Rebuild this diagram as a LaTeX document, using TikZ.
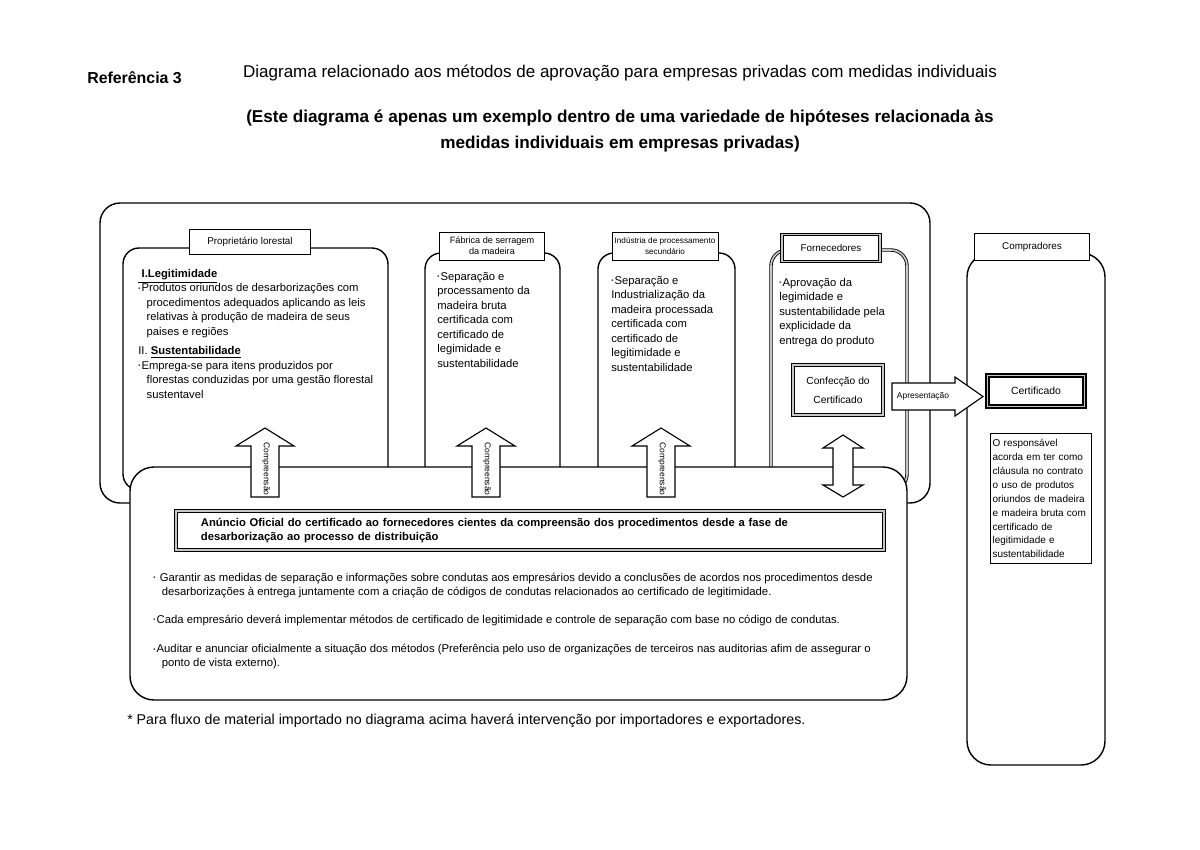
\documentclass[tikz,border=0pt]{standalone}
\usepackage{fontspec}
\setmainfont{Liberation Sans}
\usetikzlibrary{positioning}
\tikzset{
  frame/.style={draw, line width=1pt, rounded corners=5mm},
  inframe/.style={draw, line width=1pt, rounded corners=4mm},
  dframe/.style={draw, line width=0.6pt, double=gray!45, double distance=1.2pt, rounded corners=4mm},
  tag/.style={draw, line width=0.7pt, fill=white, align=center, inner sep=1pt,
              font=\fontsize{7}{8.5}\selectfont},
  dtag/.style={tag, double=gray!45, double distance=1.2pt},
  body/.style={anchor=north west, align=left, inner sep=0pt, font=\fontsize{8}{10.3}\selectfont},
  small/.style={anchor=north west, align=left, inner sep=0pt, font=\fontsize{8.05}{9.9}\selectfont},
  blockarrow/.style={draw, line width=0.8pt, fill=white, line join=miter},
  vtext/.style={rotate=-90, inner sep=0pt, font=\fontsize{6}{7}\selectfont},
}
\newcommand{\bul}{\raisebox{0.3ex}{\scalebox{0.5}{\textbullet}}\hspace{0.12em}}

\begin{document}
\begin{tikzpicture}[x=0.025cm,y=-0.025cm]
\useasboundingbox (0,0) rectangle (1200,849);
% headings
\node[anchor=west, inner sep=0pt, font=\bfseries\fontsize{11.3}{13}\selectfont] (ref) at (87,78) {Referência 3};
\node[inner sep=0pt, font=\fontsize{12.1}{14}\selectfont] (subt) at (620,73)
  {Diagrama relacionado aos métodos de aprovação para empresas privadas com medidas individuais};
\node[align=center, inner sep=0pt, font=\bfseries\fontsize{12.2}{18}\selectfont] (note) at (620,131)
  {(Este diagrama é apenas um exemplo dentro de uma variedade de hipóteses relacionada às\\
   medidas individuais em empresas privadas)};

% frames
\draw[frame] (100,203) rectangle (930,503);
\draw[inframe] (123,248) rectangle (388,490);
\draw[inframe] (425,253) rectangle (560,490);
\draw[inframe] (598,253) rectangle (735,490);
\draw[dframe] (771,250) rectangle (907,490);
\draw[frame, rounded corners=6mm] (967,253) rectangle (1105,765);
\draw[frame, rounded corners=6mm, fill=white] (130,467) rectangle (907,700);

% tags
\node[tag, minimum width=3cm, minimum height=0.62cm] (tagOwner) at (250,242) {Proprietário lorestal};
\node[tag, minimum width=2.62cm, minimum height=0.7cm, font=\fontsize{6.5}{7.6}\selectfont] (tagMill) at (492,246)
  {Fábrica de serragem\\da madeira};
\node[tag, minimum width=2.65cm, minimum height=0.7cm, font=\fontsize{5.8}{7.2}\selectfont] (tagInd) at (665,246)
  {Indústria de processamento\\secundário};
\node[dtag, minimum width=2.45cm, minimum height=0.68cm] (tagSup) at (831,248) {Fornecedores};
\node[tag, minimum width=2.88cm, minimum height=0.67cm] (tagBuy) at (1032,247) {Compradores};

% texts of the stages
\node[body] (txtOwner) at (138,269)
  {\underline{\textbf{\hspace{0.3em}I.Legitimidade}}\\
   \bul Produtos oriundos de desarborizações com\\
   \hspace*{0.75em}procedimentos adequados aplicando as leis\\
   \hspace*{0.75em}relativas à produção de madeira de seus\\
   \hspace*{0.75em}paises e regiões\\[3.5pt]
   II. \underline{\textbf{Sustentabilidade}}\\
   \bul Emprega-se para itens produzidos por\\
   \hspace*{0.75em}florestas conduzidas por uma gestão florestal\\
   \hspace*{0.75em}sustentavel};
\node[body] (txtMill) at (437,272)
  {\bul Separação e\\processamento da\\madeira bruta\\certificada com\\certificado de\\legimidade e\\sustentabilidade};
\node[body] (txtInd) at (611,276)
  {\bul Separação e\\Industrialização da\\madeira processada\\certificada com\\certificado de\\legitimidade e\\sustentabilidade};
\node[body] (txtSup) at (779,278)
  {\bul Aprovação da\\legimidade e\\sustentabilidade pela\\explicidade da\\entrega do produto};

% certificate path
\node[dtag, line width=0.9pt, minimum width=2.25cm, minimum height=1.25cm,
      font=\fontsize{7.3}{13.5}\selectfont] (make) at (838,390) {Confecção do\\Certificado};
\node[dtag, line width=0.9pt, minimum width=2.42cm, minimum height=0.77cm,
      font=\fontsize{7.4}{9}\selectfont] (cert) at (1036,391) {Certificado};
\draw[blockarrow] (892,383) -- (955,383) -- (955,377) -- (983,396.5) -- (955,416) -- (955,410) -- (892,410) -- cycle;
\node[inner sep=0pt, font=\fontsize{6}{7}\selectfont] (pres) at (923,396.5) {Apresentação};
\node[anchor=north west, align=left, draw, line width=0.7pt, inner xsep=1.5pt, inner ysep=4pt,
      text width=2.42cm, font=\fontsize{7.1}{9.9}\selectfont] (buyTxt) at (990,433)
  {O responsável\\acorda em ter como\\cláusula no contrato\\o uso de produtos\\oriundos de madeira\\e madeira bruta com\\certificado de\\legitimidade e\\sustentabilidade};

% block arrows
\foreach \ax/\nm in {265/upa,486/upb,661/upc}{
  \draw[blockarrow] (\ax-14,497) -- (\ax-14,446) -- (\ax-29,446) -- (\ax,428)
    -- (\ax+29,446) -- (\ax+14,446) -- (\ax+14,497) -- cycle;
  \node[vtext] (\nm) at (\ax+1,469) {Compreensão};
}
\draw[blockarrow] (843,435) -- (863,448) -- (853,448) -- (853,485) -- (863,485) -- (843,497)
  -- (823,485) -- (833,485) -- (833,448) -- (823,448) -- cycle;

% official notice
\node[draw, line width=0.9pt, double=gray!45, double distance=1.3pt, fill=white,
      text width=16.45cm, inner xsep=0.62cm, minimum height=0.97cm, align=left,
      font=\bfseries\fontsize{8}{10.3}\selectfont] (notice) at (530,530.5)
  {Anúncio Oficial do certificado ao fornecedores cientes da compreensão dos procedimentos desde a fase de\\
   desarborização ao processo de distribuição};
\node[small] (rules) at (153,573)
  {\bul\ Garantir as medidas de separação e informações sobre condutas aos empresários devido a conclusões de acordos nos procedimentos desde\\
   \hspace*{0.75em}desarborizações à entrega juntamente com a criação de códigos de condutas relacionados ao certificado de legitimidade.\\[10pt]
   \bul Cada empresário deverá implementar métodos de certificado de legitimidade e controle de separação com base no código de condutas.\\[11pt]
   \bul Auditar e anunciar oficialmente a situação dos métodos (Preferência pelo uso de organizações de terceiros nas auditorias afim de assegurar o\\
   \hspace*{0.75em}ponto de vista externo).};

% footnote
\node[anchor=west, inner sep=0pt, font=\fontsize{10.1}{12}\selectfont] (foot) at (127,721)
  {* Para fluxo de material importado no diagrama acima haverá intervenção por importadores e exportadores.};
\end{tikzpicture}
\end{document}
